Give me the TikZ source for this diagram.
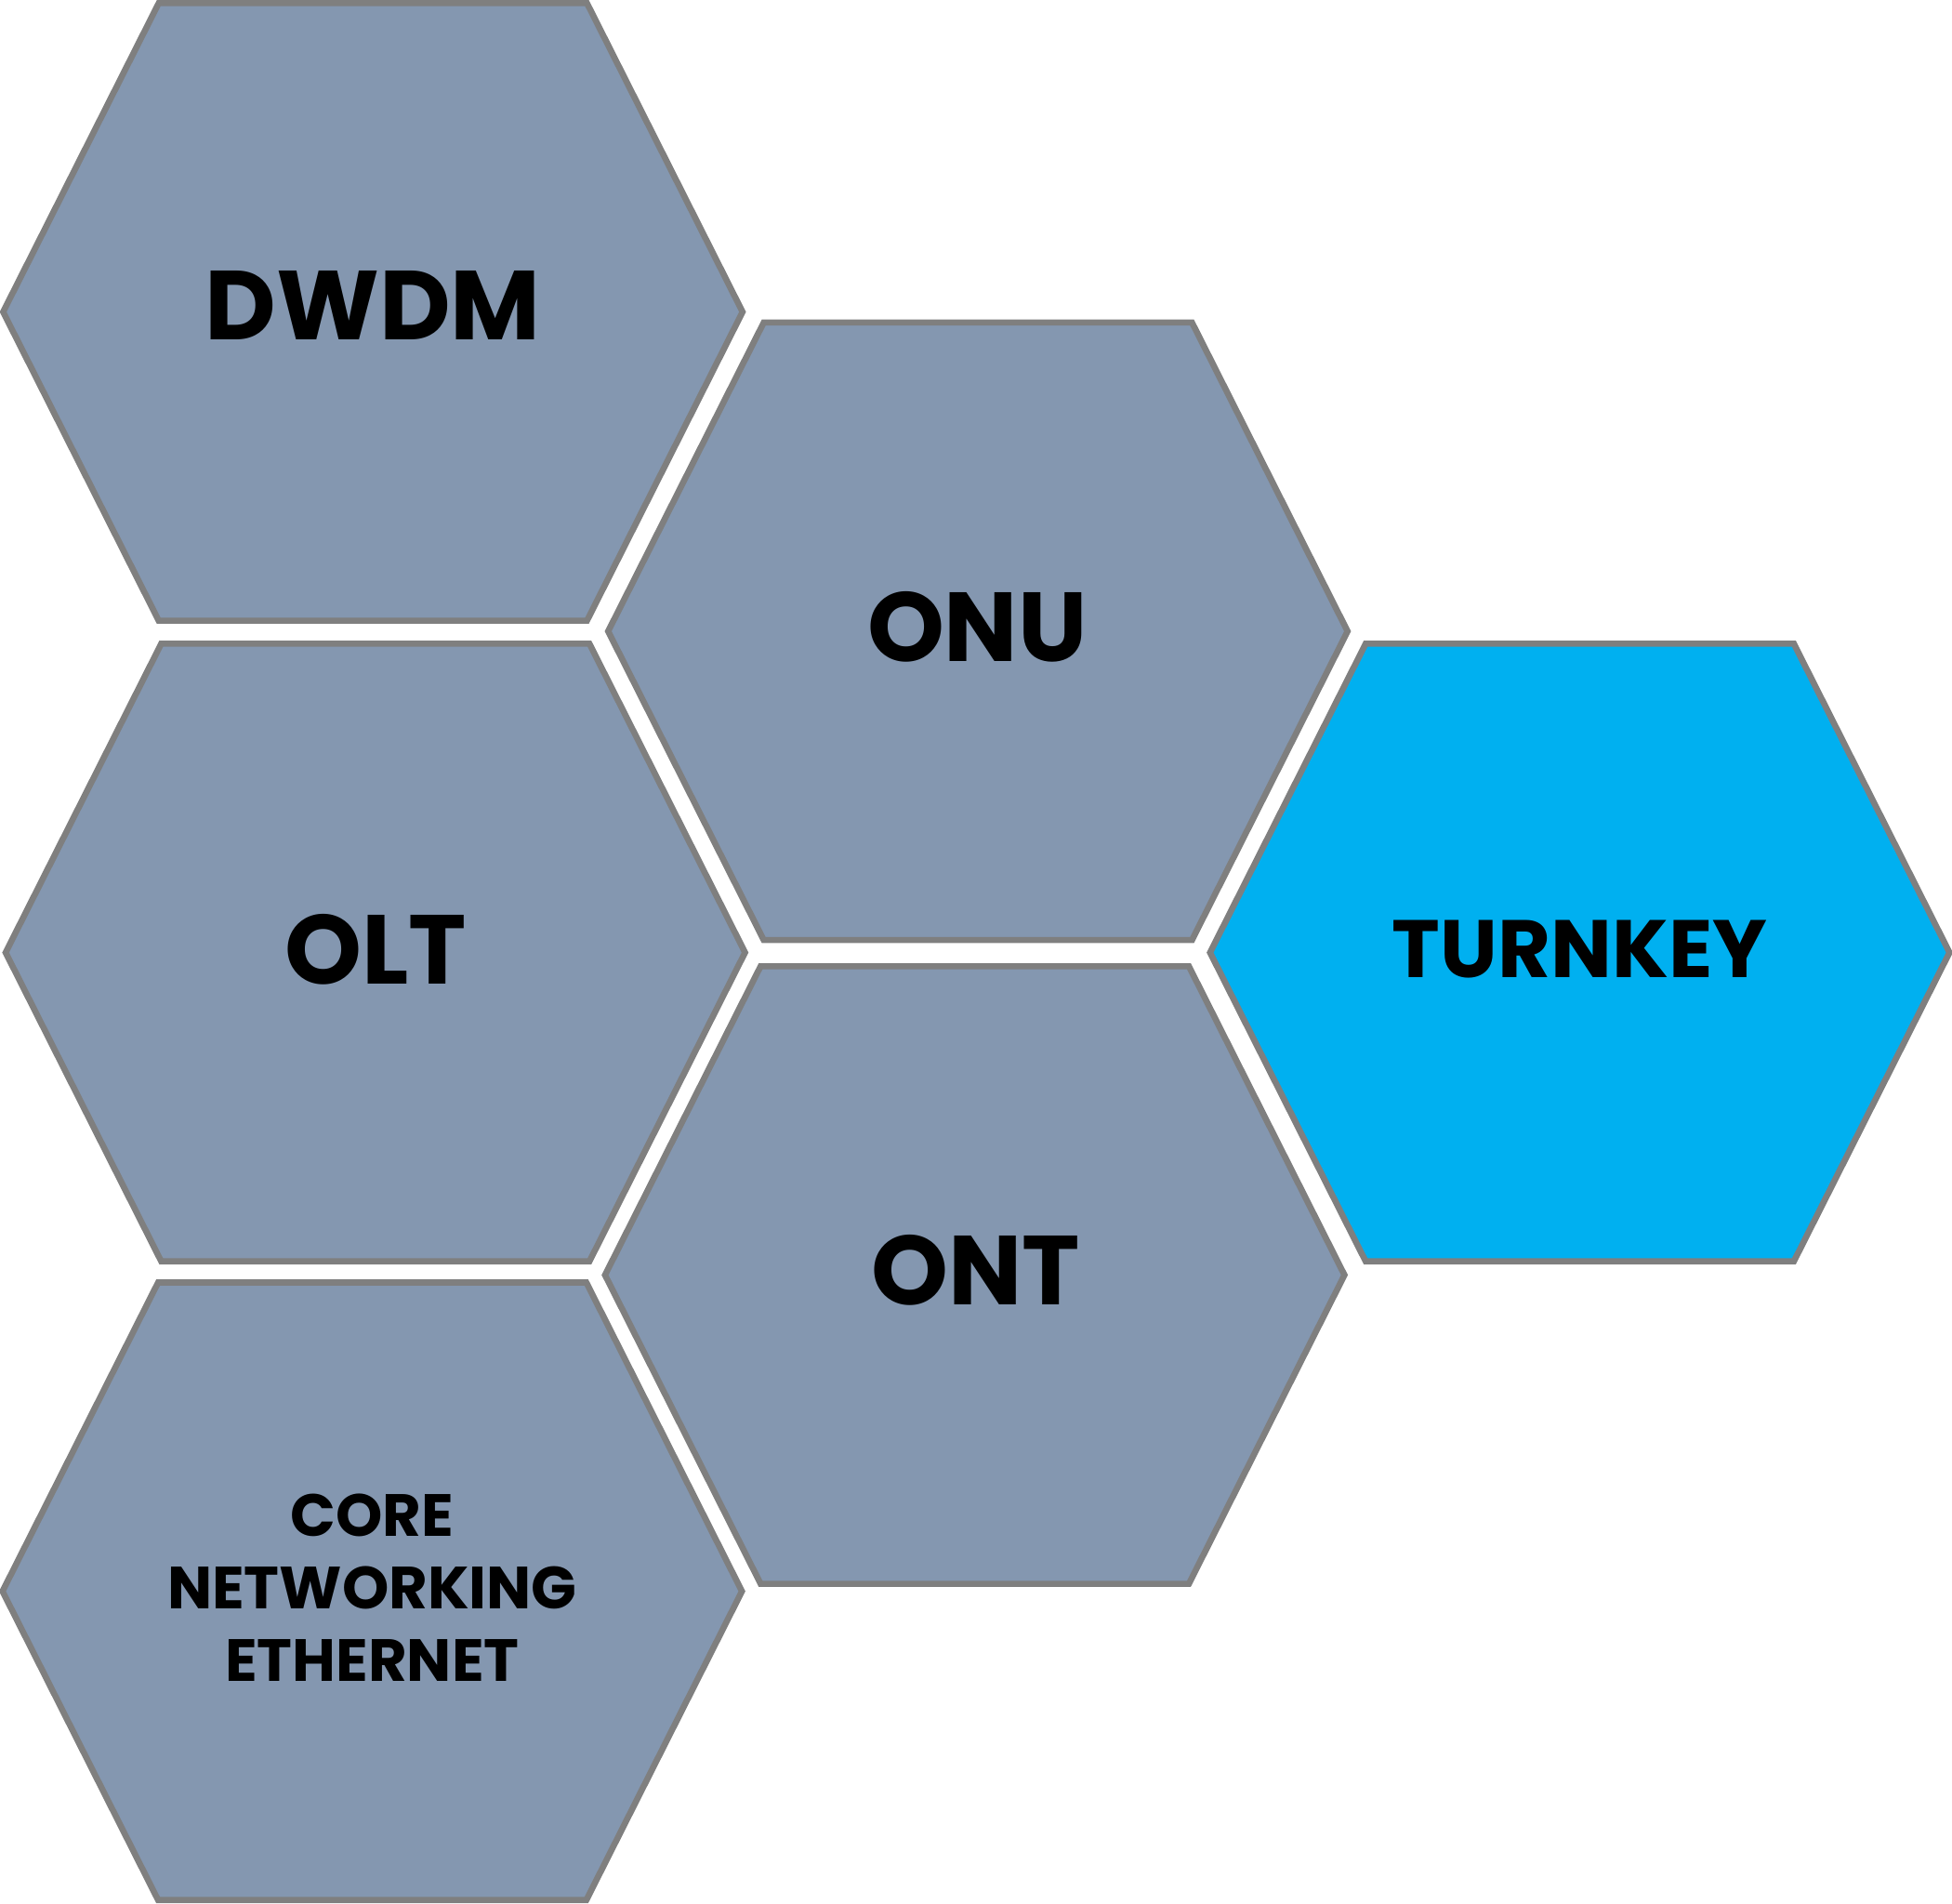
\documentclass[tikz,border=0pt]{standalone}
\usepackage{fontspec}
\setmainfont{Poppins}
\usetikzlibrary{positioning}
\definecolor{hexgray}{HTML}{8497B0}
\definecolor{hexblue}{HTML}{00B0F0}
\definecolor{hexedge}{HTML}{7F7F7F}
\tikzset{
	hexline/.style={line width=1.4pt,draw=hexedge,line join=miter},
	hexlabel/.style={anchor=base,inner sep=0pt,font=\bfseries\fontsize{22.4}{27}\selectfont},
	hexsmall/.style={hexlabel,align=center,font=\bfseries\fontsize{13.6}{16.5}\selectfont},
}
\begin{document}
\begin{tikzpicture}[x=.01cm,y=-.01cm]
		\useasboundingbox (0,0) rectangle (1568,1529);
		\foreach \x/\y/\c in {299.5/250.5/hexgray,785.5/507/hexgray,301.5/765/hexgray,1269/765/hexblue,783/1024/hexgray,299/1278/hexgray} \filldraw[hexline,fill=\c] (\x-297,\y) -- (\x-172,\y-248) -- (\x+172,\y-248) -- (\x+297,\y) -- (\x+172,\y+248) -- (\x-172,\y+248) -- cycle;
		\node[hexlabel] (dwdm) at (299.5,273) {DWDM};
		\node[hexlabel] (onu) at (785,531) {ONU};
		\node[hexlabel] (olt) at (302,790) {OLT};
		\node[hexlabel,font=\bfseries\fontsize{18.6}{22}\selectfont] (turnkey) at (1269,785) {TURNKEY};
		\node[hexlabel] (ont) at (784,1048) {ONT};
		\node[hexsmall] (core) at (299,1350) {CORE\\NETWORKING\\ETHERNET};
	\end{tikzpicture}
\end{document}
